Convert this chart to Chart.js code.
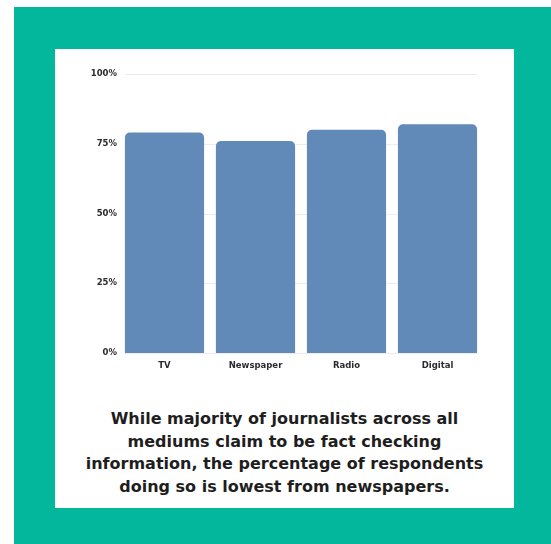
<!DOCTYPE html>
<html>
<head>
<meta charset="utf-8">
<script src="https://cdn.jsdelivr.net/npm/chart.js@4"></script>
<style>
  html, body { margin: 0; padding: 0; background: #ffffff; }
  body { width: 551px; height: 544px; position: relative; overflow: hidden; }
  .frame { position: absolute; left: 14px; top: 7px; width: 537px; height: 537px; background: #03b79c; }
  .panel { position: absolute; left: 55px; top: 49px; width: 459px; height: 459px; background: #ffffff; }
  #chart { position: absolute; left: 0; top: 0; }
  .caption {
    position: absolute; left: 0; top: 359px; width: 459px;
    text-align: center; white-space: nowrap;
    font-family: "DejaVu Sans", sans-serif; font-weight: 700;
    font-size: 16px; line-height: 22.5px; color: #1e1e1e;
  }
</style>
</head>
<body>
<div class="frame"></div>
<div class="panel">
  <canvas id="chart" width="459" height="330"></canvas>
  <div class="caption">While majority of journalists across all<br>mediums claim to be fact checking<br>information, the percentage of respondents<br>doing so is lowest from newspapers.</div>
</div>
<script>
// Share of respondents who fact-check, by medium (%)
const mediums = ['TV', 'Newspaper', 'Radio', 'Digital'];
const factCheckShare = [79, 76, 80, 82];
const yTicks = [0, 25, 50, 75, 100];

const tickFont = { family: '"DejaVu Sans", sans-serif', size: 8.5, weight: 'bold' };

// Light horizontal guides, inset slightly from the plot edges
const insetGrid = {
  id: 'insetGrid',
  beforeDatasetsDraw(chart) {
    const { ctx, chartArea, scales } = chart;
    ctx.save();
    ctx.strokeStyle = '#ececec';
    ctx.lineWidth = 1;
    yTicks.forEach(v => {
      const y = Math.round(scales.y.getPixelForValue(v)) + 0.5;
      ctx.beginPath();
      ctx.moveTo(chartArea.left + 6, y);
      ctx.lineTo(chartArea.right - 6, y);
      ctx.stroke();
    });
    ctx.restore();
  }
};

new Chart(document.getElementById('chart'), {
  type: 'bar',
  data: {
    labels: mediums,
    datasets: [{
      data: factCheckShare,
      backgroundColor: '#628ab8',
      borderRadius: { topLeft: 5, topRight: 5, bottomLeft: 0, bottomRight: 0 },
      borderSkipped: false,
      categoryPercentage: 1,
      barPercentage: 0.87
    }]
  },
  options: {
    responsive: false,
    animation: false,
    layout: { padding: { top: 25, right: 31, left: 0, bottom: 0 } },
    plugins: { legend: { display: false }, tooltip: { enabled: false } },
    scales: {
      x: {
        grid: { display: false, drawTicks: false },
        border: { display: false },
        ticks: { font: tickFont, color: '#2b2b2b', padding: 8 },
        afterFit(scale) { scale.height = 26; }
      },
      y: {
        min: 0, max: 100,
        afterBuildTicks(scale) { scale.ticks = yTicks.map(v => ({ value: v })); },
        grid: { display: false, drawTicks: false },
        border: { display: false },
        ticks: { font: tickFont, color: '#2b2b2b', padding: 2, callback: v => v + '%' },
        afterFit(scale) { scale.width = 64; }
      }
    }
  },
  plugins: [insetGrid]
});
</script>
</body>
</html>
